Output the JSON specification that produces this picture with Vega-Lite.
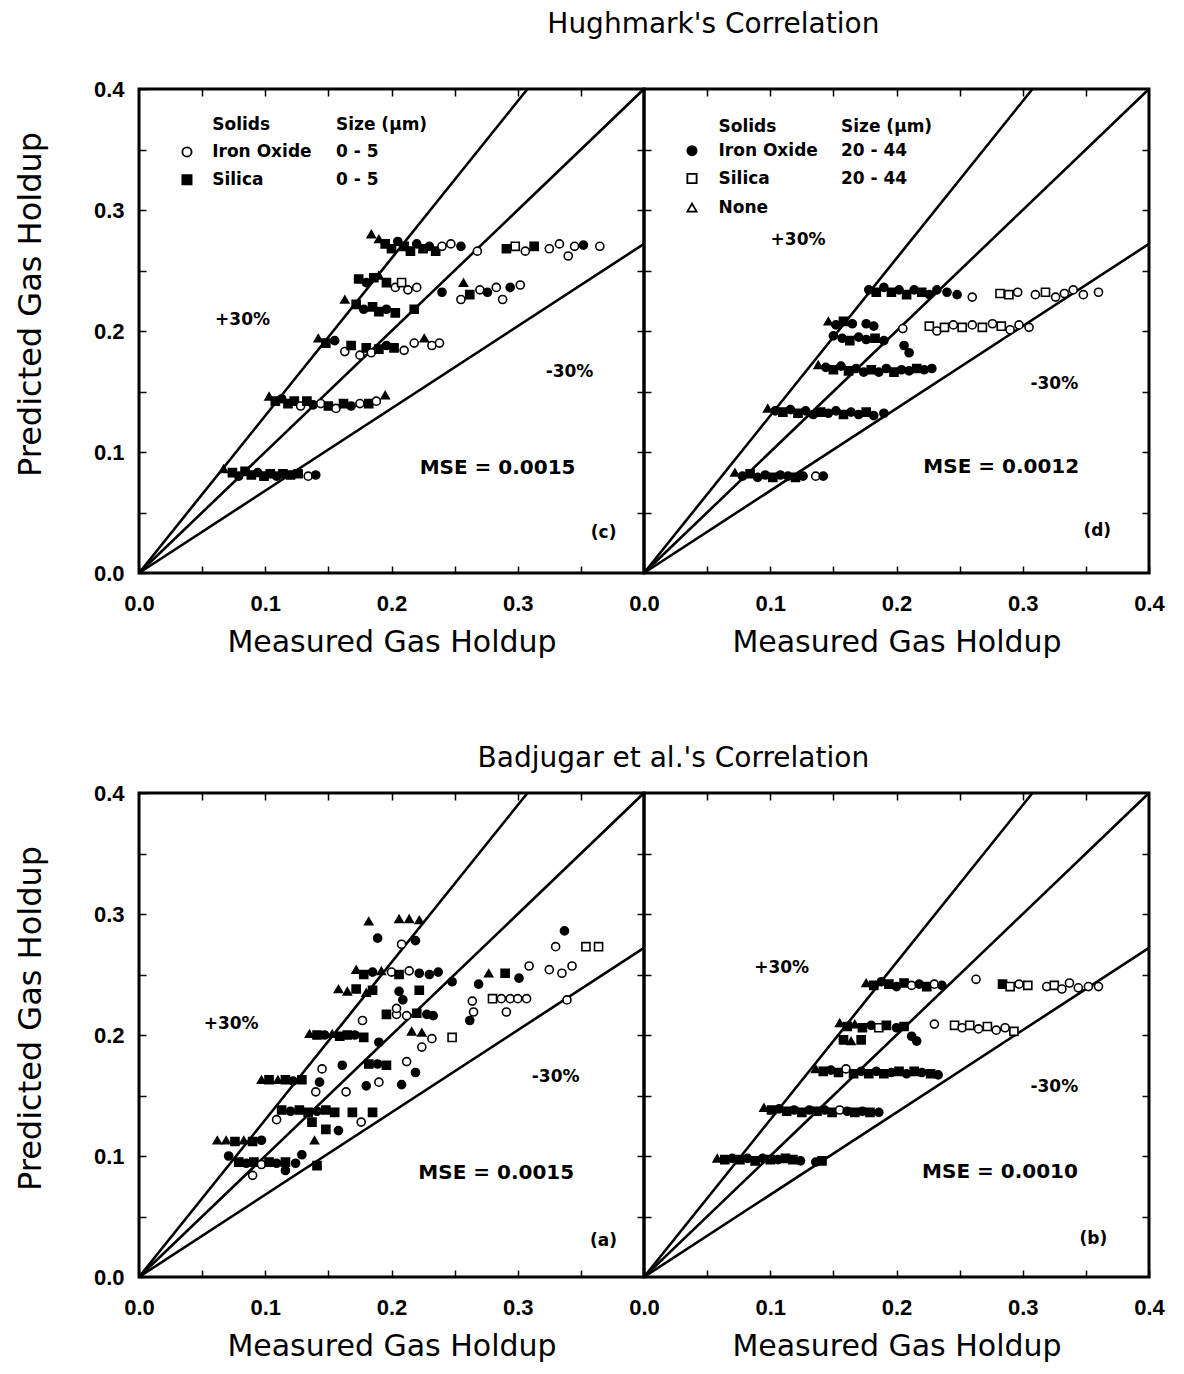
{
"$schema": "https://vega.github.io/schema/vega-lite/v6.json",
"background": "white",
"padding": {"left": 12, "top": 10, "right": 10, "bottom": 5},
"config": {
  "view": {"stroke": "black", "strokeWidth": 3},
  "axis": {"domain": false, "grid": false, "tickColor": "black", "tickWidth": 1.5, "tickSize": -7, "labelFont": "Liberation Sans", "labelFontWeight": "bold", "labelFontSize": 22, "labelColor": "black", "labelFlush": false, "labelOverlap": false, "titleFont": "DejaVu Sans", "titleFontWeight": "normal", "titleColor": "black"},
  "axisX": {"titleFontSize": 30},
  "axisY": {"titleFontSize": 32},
  "title": {"font": "DejaVu Sans", "fontSize": 28, "fontWeight": "normal", "color": "black", "anchor": "middle"},
  "text": {"color": "black"}
},
"datasets": {
  "lines": [
    {"l": "u", "x": 0, "y": 0}, {"l": "u", "x": 0.3077, "y": 0.4},
    {"l": "m", "x": 0, "y": 0}, {"l": "m", "x": 0.4, "y": 0.4},
    {"l": "d", "x": 0, "y": 0}, {"l": "d", "x": 0.4, "y": 0.272}
  ],
  "legsym": [
    {"p": "c", "s": "oc", "x": 0.038, "y": 0.348}, {"p": "c", "s": "fs", "x": 0.038, "y": 0.325},
    {"p": "d", "s": "fc", "x": 0.038, "y": 0.349}, {"p": "d", "s": "os", "x": 0.038, "y": 0.326}, {"p": "d", "s": "ot", "x": 0.038, "y": 0.302}
  ],
  "txt": [
    {"p": "c", "k": "leg", "x": 0.058, "y": 0.37, "t": "Solids"}, {"p": "c", "k": "leg", "x": 0.156, "y": 0.37, "t": "Size (μm)"},
    {"p": "c", "k": "leg", "x": 0.058, "y": 0.348, "t": "Iron Oxide"}, {"p": "c", "k": "leg", "x": 0.156, "y": 0.348, "t": "0 - 5"},
    {"p": "c", "k": "leg", "x": 0.058, "y": 0.325, "t": "Silica"}, {"p": "c", "k": "leg", "x": 0.156, "y": 0.325, "t": "0 - 5"},
    {"p": "d", "k": "leg", "x": 0.059, "y": 0.369, "t": "Solids"}, {"p": "d", "k": "leg", "x": 0.156, "y": 0.369, "t": "Size (μm)"},
    {"p": "d", "k": "leg", "x": 0.059, "y": 0.349, "t": "Iron Oxide"}, {"p": "d", "k": "leg", "x": 0.156, "y": 0.349, "t": "20 - 44"},
    {"p": "d", "k": "leg", "x": 0.059, "y": 0.326, "t": "Silica"}, {"p": "d", "k": "leg", "x": 0.156, "y": 0.326, "t": "20 - 44"},
    {"p": "d", "k": "leg", "x": 0.059, "y": 0.302, "t": "None"},
    {"p": "c", "k": "pct", "x": 0.082, "y": 0.209, "t": "+30%"}, {"p": "c", "k": "pct", "x": 0.341, "y": 0.166, "t": "-30%"},
    {"p": "c", "k": "mse", "x": 0.284, "y": 0.087, "t": "MSE = 0.0015"}, {"p": "c", "k": "lab", "x": 0.368, "y": 0.033, "t": "(c)"},
    {"p": "d", "k": "pct", "x": 0.122, "y": 0.275, "t": "+30%"}, {"p": "d", "k": "pct", "x": 0.325, "y": 0.156, "t": "-30%"},
    {"p": "d", "k": "mse", "x": 0.283, "y": 0.088, "t": "MSE = 0.0012"}, {"p": "d", "k": "lab", "x": 0.359, "y": 0.035, "t": "(d)"},
    {"p": "a", "k": "pct", "x": 0.073, "y": 0.209, "t": "+30%"}, {"p": "a", "k": "pct", "x": 0.33, "y": 0.165, "t": "-30%"},
    {"p": "a", "k": "mse", "x": 0.283, "y": 0.086, "t": "MSE = 0.0015"}, {"p": "a", "k": "lab", "x": 0.368, "y": 0.03, "t": "(a)"},
    {"p": "b", "k": "pct", "x": 0.109, "y": 0.255, "t": "+30%"}, {"p": "b", "k": "pct", "x": 0.325, "y": 0.157, "t": "-30%"},
    {"p": "b", "k": "mse", "x": 0.282, "y": 0.087, "t": "MSE = 0.0010"}, {"p": "b", "k": "lab", "x": 0.356, "y": 0.031, "t": "(b)"}
  ],
  "pts": [
    {"p":"c","s":"t","x":0.184,"y":0.28},{"p":"c","s":"t","x":0.19,"y":0.276},{"p":"c","s":"fs","x":0.195,"y":0.272},{"p":"c","s":"fs","x":0.2,"y":0.268},{"p":"c","s":"fc","x":0.205,"y":0.274},{"p":"c","s":"fs","x":0.21,"y":0.27},{"p":"c","s":"fs","x":0.215,"y":0.266},{"p":"c","s":"fc","x":0.22,"y":0.272},{"p":"c","s":"fs","x":0.225,"y":0.268},{"p":"c","s":"fc","x":0.23,"y":0.27},{"p":"c","s":"fs","x":0.235,"y":0.266},{"p":"c","s":"oc","x":0.24,"y":0.27},{"p":"c","s":"oc","x":0.247,"y":0.272},{"p":"c","s":"fc","x":0.255,"y":0.27},{"p":"c","s":"oc","x":0.268,"y":0.266},{"p":"c","s":"fs","x":0.291,"y":0.268},{"p":"c","s":"os","x":0.298,"y":0.27},{"p":"c","s":"oc","x":0.306,"y":0.266},{"p":"c","s":"fs","x":0.313,"y":0.27},{"p":"c","s":"oc","x":0.325,"y":0.268},{"p":"c","s":"oc","x":0.333,"y":0.272},{"p":"c","s":"oc","x":0.34,"y":0.262},{"p":"c","s":"oc","x":0.345,"y":0.27},{"p":"c","s":"fc","x":0.352,"y":0.271},{"p":"c","s":"oc","x":0.365,"y":0.27},
    {"p":"c","s":"fs","x":0.174,"y":0.243},{"p":"c","s":"fc","x":0.18,"y":0.24},{"p":"c","s":"fs","x":0.186,"y":0.244},{"p":"c","s":"t","x":0.19,"y":0.246},{"p":"c","s":"fs","x":0.196,"y":0.24},{"p":"c","s":"oc","x":0.203,"y":0.236},{"p":"c","s":"os","x":0.208,"y":0.24},{"p":"c","s":"oc","x":0.213,"y":0.234},{"p":"c","s":"oc","x":0.22,"y":0.236},
    {"p":"c","s":"fc","x":0.24,"y":0.232},{"p":"c","s":"t","x":0.257,"y":0.24},{"p":"c","s":"oc","x":0.255,"y":0.226},{"p":"c","s":"fs","x":0.262,"y":0.23},{"p":"c","s":"oc","x":0.27,"y":0.234},{"p":"c","s":"fc","x":0.276,"y":0.232},{"p":"c","s":"oc","x":0.283,"y":0.236},{"p":"c","s":"oc","x":0.288,"y":0.226},{"p":"c","s":"fc","x":0.294,"y":0.236},{"p":"c","s":"oc","x":0.302,"y":0.238},
    {"p":"c","s":"t","x":0.163,"y":0.226},{"p":"c","s":"fs","x":0.172,"y":0.222},{"p":"c","s":"fc","x":0.178,"y":0.218},{"p":"c","s":"fs","x":0.185,"y":0.22},{"p":"c","s":"fs","x":0.19,"y":0.216},{"p":"c","s":"fc","x":0.196,"y":0.218},{"p":"c","s":"fs","x":0.203,"y":0.215},{"p":"c","s":"fs","x":0.218,"y":0.218},
    {"p":"c","s":"t","x":0.142,"y":0.194},{"p":"c","s":"fs","x":0.148,"y":0.19},{"p":"c","s":"fc","x":0.155,"y":0.192},{"p":"c","s":"oc","x":0.163,"y":0.183},{"p":"c","s":"fs","x":0.168,"y":0.188},{"p":"c","s":"oc","x":0.175,"y":0.18},{"p":"c","s":"fs","x":0.18,"y":0.186},{"p":"c","s":"oc","x":0.184,"y":0.182},{"p":"c","s":"fs","x":0.19,"y":0.185},{"p":"c","s":"fc","x":0.196,"y":0.188},{"p":"c","s":"fs","x":0.202,"y":0.186},{"p":"c","s":"oc","x":0.21,"y":0.184},{"p":"c","s":"oc","x":0.218,"y":0.19},{"p":"c","s":"t","x":0.226,"y":0.194},{"p":"c","s":"oc","x":0.232,"y":0.188},{"p":"c","s":"oc","x":0.238,"y":0.19},
    {"p":"c","s":"t","x":0.103,"y":0.146},{"p":"c","s":"fs","x":0.108,"y":0.142},{"p":"c","s":"fc","x":0.113,"y":0.144},{"p":"c","s":"fs","x":0.118,"y":0.14},{"p":"c","s":"fs","x":0.123,"y":0.142},{"p":"c","s":"oc","x":0.128,"y":0.138},{"p":"c","s":"fs","x":0.133,"y":0.142},{"p":"c","s":"fc","x":0.138,"y":0.139},{"p":"c","s":"oc","x":0.144,"y":0.14},{"p":"c","s":"fs","x":0.15,"y":0.138},{"p":"c","s":"oc","x":0.156,"y":0.136},{"p":"c","s":"fs","x":0.162,"y":0.14},{"p":"c","s":"fc","x":0.168,"y":0.138},{"p":"c","s":"oc","x":0.175,"y":0.14},{"p":"c","s":"fs","x":0.182,"y":0.14},{"p":"c","s":"oc","x":0.188,"y":0.142},{"p":"c","s":"t","x":0.195,"y":0.147},
    {"p":"c","s":"t","x":0.067,"y":0.086},{"p":"c","s":"fs","x":0.074,"y":0.083},{"p":"c","s":"fc","x":0.079,"y":0.08},{"p":"c","s":"fs","x":0.084,"y":0.084},{"p":"c","s":"fs","x":0.089,"y":0.081},{"p":"c","s":"fc","x":0.094,"y":0.083},{"p":"c","s":"fs","x":0.099,"y":0.08},{"p":"c","s":"fs","x":0.104,"y":0.082},{"p":"c","s":"fc","x":0.109,"y":0.08},{"p":"c","s":"fs","x":0.114,"y":0.082},{"p":"c","s":"fs","x":0.12,"y":0.081},{"p":"c","s":"fs","x":0.126,"y":0.082},{"p":"c","s":"oc","x":0.134,"y":0.08},{"p":"c","s":"fc","x":0.14,"y":0.081},

    {"p":"d","s":"fc","x":0.178,"y":0.234},{"p":"d","s":"fs","x":0.184,"y":0.232},{"p":"d","s":"fc","x":0.19,"y":0.236},{"p":"d","s":"fs","x":0.196,"y":0.232},{"p":"d","s":"fc","x":0.202,"y":0.234},{"p":"d","s":"fs","x":0.208,"y":0.23},{"p":"d","s":"fc","x":0.214,"y":0.234},{"p":"d","s":"fs","x":0.22,"y":0.232},{"p":"d","s":"fc","x":0.226,"y":0.23},{"p":"d","s":"fc","x":0.232,"y":0.234},{"p":"d","s":"fc","x":0.24,"y":0.232},{"p":"d","s":"fc","x":0.248,"y":0.23},{"p":"d","s":"oc","x":0.26,"y":0.228},{"p":"d","s":"os","x":0.282,"y":0.231},{"p":"d","s":"os","x":0.289,"y":0.23},{"p":"d","s":"oc","x":0.296,"y":0.232},{"p":"d","s":"oc","x":0.31,"y":0.23},{"p":"d","s":"os","x":0.318,"y":0.232},{"p":"d","s":"oc","x":0.326,"y":0.228},{"p":"d","s":"oc","x":0.333,"y":0.231},{"p":"d","s":"oc","x":0.34,"y":0.234},{"p":"d","s":"oc","x":0.348,"y":0.23},{"p":"d","s":"oc","x":0.36,"y":0.232},
    {"p":"d","s":"t","x":0.146,"y":0.208},{"p":"d","s":"fc","x":0.152,"y":0.205},{"p":"d","s":"fs","x":0.158,"y":0.208},{"p":"d","s":"fc","x":0.165,"y":0.206},{"p":"d","s":"fc","x":0.176,"y":0.206},{"p":"d","s":"fc","x":0.182,"y":0.204},{"p":"d","s":"oc","x":0.205,"y":0.202},{"p":"d","s":"os","x":0.226,"y":0.204},{"p":"d","s":"oc","x":0.232,"y":0.2},{"p":"d","s":"os","x":0.238,"y":0.203},{"p":"d","s":"oc","x":0.245,"y":0.205},{"p":"d","s":"os","x":0.252,"y":0.203},{"p":"d","s":"oc","x":0.26,"y":0.205},{"p":"d","s":"os","x":0.268,"y":0.203},{"p":"d","s":"oc","x":0.276,"y":0.206},{"p":"d","s":"os","x":0.283,"y":0.204},{"p":"d","s":"oc","x":0.29,"y":0.201},{"p":"d","s":"oc","x":0.297,"y":0.205},{"p":"d","s":"oc","x":0.305,"y":0.203},
    {"p":"d","s":"fc","x":0.15,"y":0.196},{"p":"d","s":"fc","x":0.157,"y":0.194},{"p":"d","s":"fs","x":0.163,"y":0.192},{"p":"d","s":"fc","x":0.17,"y":0.195},{"p":"d","s":"fc","x":0.176,"y":0.193},{"p":"d","s":"fs","x":0.183,"y":0.194},{"p":"d","s":"fc","x":0.19,"y":0.192},{"p":"d","s":"fc","x":0.206,"y":0.188},{"p":"d","s":"fc","x":0.21,"y":0.182},
    {"p":"d","s":"t","x":0.138,"y":0.172},{"p":"d","s":"fc","x":0.144,"y":0.17},{"p":"d","s":"fs","x":0.15,"y":0.168},{"p":"d","s":"fc","x":0.156,"y":0.171},{"p":"d","s":"fs","x":0.162,"y":0.167},{"p":"d","s":"fc","x":0.168,"y":0.169},{"p":"d","s":"fc","x":0.174,"y":0.166},{"p":"d","s":"fs","x":0.18,"y":0.168},{"p":"d","s":"fc","x":0.186,"y":0.166},{"p":"d","s":"fc","x":0.192,"y":0.169},{"p":"d","s":"fs","x":0.198,"y":0.166},{"p":"d","s":"fc","x":0.204,"y":0.168},{"p":"d","s":"fc","x":0.21,"y":0.167},{"p":"d","s":"fs","x":0.216,"y":0.169},{"p":"d","s":"fc","x":0.222,"y":0.168},{"p":"d","s":"fc","x":0.228,"y":0.169},
    {"p":"d","s":"t","x":0.098,"y":0.136},{"p":"d","s":"fc","x":0.104,"y":0.134},{"p":"d","s":"fs","x":0.11,"y":0.133},{"p":"d","s":"fc","x":0.116,"y":0.135},{"p":"d","s":"fs","x":0.122,"y":0.132},{"p":"d","s":"fc","x":0.128,"y":0.134},{"p":"d","s":"fc","x":0.134,"y":0.131},{"p":"d","s":"fs","x":0.14,"y":0.133},{"p":"d","s":"fc","x":0.146,"y":0.132},{"p":"d","s":"fc","x":0.152,"y":0.134},{"p":"d","s":"fs","x":0.158,"y":0.131},{"p":"d","s":"fc","x":0.164,"y":0.133},{"p":"d","s":"fc","x":0.17,"y":0.131},{"p":"d","s":"fs","x":0.176,"y":0.133},{"p":"d","s":"fc","x":0.182,"y":0.13},{"p":"d","s":"fc","x":0.19,"y":0.132},
    {"p":"d","s":"t","x":0.072,"y":0.083},{"p":"d","s":"fc","x":0.078,"y":0.08},{"p":"d","s":"fs","x":0.084,"y":0.082},{"p":"d","s":"fc","x":0.09,"y":0.079},{"p":"d","s":"fc","x":0.096,"y":0.081},{"p":"d","s":"fs","x":0.102,"y":0.079},{"p":"d","s":"fc","x":0.108,"y":0.081},{"p":"d","s":"fc","x":0.114,"y":0.08},{"p":"d","s":"fs","x":0.12,"y":0.079},{"p":"d","s":"fc","x":0.126,"y":0.08},{"p":"d","s":"oc","x":0.136,"y":0.08},{"p":"d","s":"fc","x":0.142,"y":0.08},

    {"p":"a","s":"t","x":0.182,"y":0.294},{"p":"a","s":"t","x":0.206,"y":0.296},{"p":"a","s":"t","x":0.214,"y":0.296},{"p":"a","s":"t","x":0.222,"y":0.295},{"p":"a","s":"fc","x":0.189,"y":0.28},{"p":"a","s":"oc","x":0.208,"y":0.275},{"p":"a","s":"fc","x":0.219,"y":0.278},
    {"p":"a","s":"t","x":0.172,"y":0.254},{"p":"a","s":"fs","x":0.178,"y":0.25},{"p":"a","s":"fc","x":0.185,"y":0.252},{"p":"a","s":"t","x":0.192,"y":0.253},{"p":"a","s":"oc","x":0.2,"y":0.252},{"p":"a","s":"fs","x":0.206,"y":0.25},{"p":"a","s":"oc","x":0.214,"y":0.253},{"p":"a","s":"fc","x":0.222,"y":0.251},{"p":"a","s":"fc","x":0.23,"y":0.25},{"p":"a","s":"fc","x":0.237,"y":0.252},
    {"p":"a","s":"t","x":0.158,"y":0.238},{"p":"a","s":"t","x":0.165,"y":0.236},{"p":"a","s":"fs","x":0.172,"y":0.238},{"p":"a","s":"t","x":0.18,"y":0.235},{"p":"a","s":"fs","x":0.185,"y":0.237},{"p":"a","s":"fc","x":0.206,"y":0.236},{"p":"a","s":"fs","x":0.222,"y":0.237},{"p":"a","s":"fc","x":0.209,"y":0.229},{"p":"a","s":"oc","x":0.177,"y":0.212},
    {"p":"a","s":"fs","x":0.196,"y":0.217},{"p":"a","s":"oc","x":0.204,"y":0.217},{"p":"a","s":"oc","x":0.212,"y":0.216},{"p":"a","s":"fs","x":0.22,"y":0.218},{"p":"a","s":"fc","x":0.228,"y":0.217},{"p":"a","s":"fc","x":0.233,"y":0.216},{"p":"a","s":"oc","x":0.204,"y":0.222},
    {"p":"a","s":"fc","x":0.248,"y":0.244},{"p":"a","s":"fc","x":0.269,"y":0.242},{"p":"a","s":"t","x":0.277,"y":0.251},{"p":"a","s":"fs","x":0.29,"y":0.251},{"p":"a","s":"fc","x":0.301,"y":0.247},{"p":"a","s":"oc","x":0.309,"y":0.257},{"p":"a","s":"oc","x":0.325,"y":0.254},{"p":"a","s":"oc","x":0.335,"y":0.251},{"p":"a","s":"oc","x":0.343,"y":0.257},{"p":"a","s":"fc","x":0.337,"y":0.286},{"p":"a","s":"oc","x":0.33,"y":0.273},{"p":"a","s":"os","x":0.354,"y":0.273},{"p":"a","s":"os","x":0.364,"y":0.273},
    {"p":"a","s":"os","x":0.28,"y":0.23},{"p":"a","s":"oc","x":0.287,"y":0.23},{"p":"a","s":"oc","x":0.294,"y":0.23},{"p":"a","s":"oc","x":0.3,"y":0.23},{"p":"a","s":"oc","x":0.307,"y":0.23},{"p":"a","s":"oc","x":0.291,"y":0.219},{"p":"a","s":"oc","x":0.264,"y":0.228},{"p":"a","s":"oc","x":0.265,"y":0.219},{"p":"a","s":"fc","x":0.262,"y":0.212},{"p":"a","s":"oc","x":0.339,"y":0.229},
    {"p":"a","s":"t","x":0.135,"y":0.201},{"p":"a","s":"fs","x":0.141,"y":0.2},{"p":"a","s":"fc","x":0.147,"y":0.2},{"p":"a","s":"t","x":0.153,"y":0.201},{"p":"a","s":"fs","x":0.159,"y":0.199},{"p":"a","s":"fs","x":0.165,"y":0.2},{"p":"a","s":"fc","x":0.171,"y":0.2},{"p":"a","s":"fs","x":0.178,"y":0.198},{"p":"a","s":"fc","x":0.19,"y":0.194},{"p":"a","s":"t","x":0.216,"y":0.203},{"p":"a","s":"t","x":0.224,"y":0.202},{"p":"a","s":"oc","x":0.232,"y":0.197},{"p":"a","s":"os","x":0.248,"y":0.198},{"p":"a","s":"oc","x":0.224,"y":0.19},
    {"p":"a","s":"oc","x":0.145,"y":0.172},{"p":"a","s":"fc","x":0.161,"y":0.175},{"p":"a","s":"fs","x":0.182,"y":0.176},{"p":"a","s":"fc","x":0.189,"y":0.176},{"p":"a","s":"fs","x":0.196,"y":0.175},{"p":"a","s":"oc","x":0.212,"y":0.178},{"p":"a","s":"fc","x":0.219,"y":0.169},
    {"p":"a","s":"t","x":0.097,"y":0.163},{"p":"a","s":"fs","x":0.103,"y":0.163},{"p":"a","s":"t","x":0.11,"y":0.163},{"p":"a","s":"fs","x":0.116,"y":0.163},{"p":"a","s":"fc","x":0.122,"y":0.162},{"p":"a","s":"fs","x":0.129,"y":0.163},{"p":"a","s":"fc","x":0.143,"y":0.161},{"p":"a","s":"oc","x":0.14,"y":0.153},{"p":"a","s":"oc","x":0.164,"y":0.153},{"p":"a","s":"fc","x":0.18,"y":0.158},{"p":"a","s":"oc","x":0.19,"y":0.161},{"p":"a","s":"fc","x":0.208,"y":0.159},
    {"p":"a","s":"fs","x":0.113,"y":0.138},{"p":"a","s":"fc","x":0.12,"y":0.137},{"p":"a","s":"fs","x":0.127,"y":0.138},{"p":"a","s":"fs","x":0.134,"y":0.136},{"p":"a","s":"fc","x":0.141,"y":0.137},{"p":"a","s":"fs","x":0.148,"y":0.138},{"p":"a","s":"fs","x":0.155,"y":0.136},{"p":"a","s":"oc","x":0.109,"y":0.13},{"p":"a","s":"fs","x":0.137,"y":0.128},{"p":"a","s":"fs","x":0.148,"y":0.122},{"p":"a","s":"fc","x":0.158,"y":0.121},{"p":"a","s":"fs","x":0.169,"y":0.136},{"p":"a","s":"fs","x":0.185,"y":0.136},{"p":"a","s":"oc","x":0.176,"y":0.128},{"p":"a","s":"t","x":0.139,"y":0.113},
    {"p":"a","s":"t","x":0.062,"y":0.113},{"p":"a","s":"t","x":0.069,"y":0.113},{"p":"a","s":"fs","x":0.076,"y":0.112},{"p":"a","s":"t","x":0.083,"y":0.113},{"p":"a","s":"fs","x":0.09,"y":0.112},{"p":"a","s":"fc","x":0.097,"y":0.113},
    {"p":"a","s":"fs","x":0.079,"y":0.095},{"p":"a","s":"fc","x":0.085,"y":0.094},{"p":"a","s":"fs","x":0.091,"y":0.095},{"p":"a","s":"oc","x":0.097,"y":0.093},{"p":"a","s":"fs","x":0.103,"y":0.095},{"p":"a","s":"fc","x":0.109,"y":0.094},{"p":"a","s":"fs","x":0.116,"y":0.095},{"p":"a","s":"fc","x":0.124,"y":0.094},{"p":"a","s":"oc","x":0.09,"y":0.084},{"p":"a","s":"fc","x":0.129,"y":0.101},{"p":"a","s":"fs","x":0.141,"y":0.092},{"p":"a","s":"fc","x":0.116,"y":0.088},{"p":"a","s":"fc","x":0.071,"y":0.1},

    {"p":"b","s":"t","x":0.176,"y":0.243},{"p":"b","s":"fs","x":0.182,"y":0.241},{"p":"b","s":"fc","x":0.188,"y":0.244},{"p":"b","s":"fs","x":0.194,"y":0.242},{"p":"b","s":"fc","x":0.2,"y":0.24},{"p":"b","s":"fs","x":0.206,"y":0.243},{"p":"b","s":"oc","x":0.212,"y":0.241},{"p":"b","s":"fc","x":0.218,"y":0.242},{"p":"b","s":"fs","x":0.224,"y":0.24},{"p":"b","s":"oc","x":0.23,"y":0.242},{"p":"b","s":"fc","x":0.236,"y":0.241},{"p":"b","s":"oc","x":0.263,"y":0.246},{"p":"b","s":"fs","x":0.284,"y":0.242},{"p":"b","s":"os","x":0.29,"y":0.24},{"p":"b","s":"oc","x":0.297,"y":0.242},{"p":"b","s":"os","x":0.304,"y":0.241},{"p":"b","s":"oc","x":0.319,"y":0.24},{"p":"b","s":"os","x":0.325,"y":0.241},{"p":"b","s":"oc","x":0.331,"y":0.238},{"p":"b","s":"oc","x":0.337,"y":0.243},{"p":"b","s":"oc","x":0.344,"y":0.239},{"p":"b","s":"oc","x":0.352,"y":0.24},{"p":"b","s":"oc","x":0.36,"y":0.24},
    {"p":"b","s":"t","x":0.155,"y":0.21},{"p":"b","s":"fs","x":0.161,"y":0.207},{"p":"b","s":"t","x":0.167,"y":0.209},{"p":"b","s":"fs","x":0.173,"y":0.206},{"p":"b","s":"fc","x":0.18,"y":0.208},{"p":"b","s":"os","x":0.186,"y":0.206},{"p":"b","s":"fs","x":0.192,"y":0.208},{"p":"b","s":"fc","x":0.2,"y":0.206},{"p":"b","s":"fs","x":0.206,"y":0.207},{"p":"b","s":"fc","x":0.212,"y":0.199},{"p":"b","s":"fc","x":0.216,"y":0.195},{"p":"b","s":"oc","x":0.23,"y":0.209},{"p":"b","s":"os","x":0.246,"y":0.208},{"p":"b","s":"oc","x":0.252,"y":0.206},{"p":"b","s":"os","x":0.258,"y":0.208},{"p":"b","s":"oc","x":0.265,"y":0.205},{"p":"b","s":"os","x":0.272,"y":0.207},{"p":"b","s":"oc","x":0.279,"y":0.204},{"p":"b","s":"oc","x":0.286,"y":0.206},{"p":"b","s":"os","x":0.293,"y":0.203},{"p":"b","s":"fs","x":0.158,"y":0.196},{"p":"b","s":"t","x":0.164,"y":0.195},{"p":"b","s":"fs","x":0.172,"y":0.196},
    {"p":"b","s":"t","x":0.136,"y":0.172},{"p":"b","s":"fs","x":0.142,"y":0.17},{"p":"b","s":"fc","x":0.148,"y":0.171},{"p":"b","s":"fs","x":0.154,"y":0.169},{"p":"b","s":"oc","x":0.16,"y":0.172},{"p":"b","s":"fs","x":0.166,"y":0.168},{"p":"b","s":"fc","x":0.172,"y":0.17},{"p":"b","s":"fs","x":0.178,"y":0.168},{"p":"b","s":"fc","x":0.184,"y":0.17},{"p":"b","s":"fs","x":0.19,"y":0.168},{"p":"b","s":"fc","x":0.196,"y":0.169},{"p":"b","s":"fs","x":0.202,"y":0.17},{"p":"b","s":"fc","x":0.208,"y":0.168},{"p":"b","s":"fs","x":0.214,"y":0.17},{"p":"b","s":"fc","x":0.22,"y":0.169},{"p":"b","s":"fs","x":0.227,"y":0.168},{"p":"b","s":"fc","x":0.233,"y":0.167},
    {"p":"b","s":"t","x":0.095,"y":0.14},{"p":"b","s":"fs","x":0.101,"y":0.138},{"p":"b","s":"fc","x":0.107,"y":0.139},{"p":"b","s":"fs","x":0.113,"y":0.137},{"p":"b","s":"fc","x":0.119,"y":0.138},{"p":"b","s":"fs","x":0.125,"y":0.136},{"p":"b","s":"fc","x":0.131,"y":0.138},{"p":"b","s":"fs","x":0.137,"y":0.137},{"p":"b","s":"fc","x":0.143,"y":0.138},{"p":"b","s":"fs","x":0.149,"y":0.136},{"p":"b","s":"oc","x":0.155,"y":0.138},{"p":"b","s":"fc","x":0.161,"y":0.137},{"p":"b","s":"fs","x":0.167,"y":0.136},{"p":"b","s":"fc","x":0.173,"y":0.137},{"p":"b","s":"fs","x":0.179,"y":0.136},{"p":"b","s":"fc","x":0.186,"y":0.136},
    {"p":"b","s":"t","x":0.058,"y":0.098},{"p":"b","s":"fs","x":0.064,"y":0.097},{"p":"b","s":"fc","x":0.07,"y":0.098},{"p":"b","s":"fs","x":0.076,"y":0.097},{"p":"b","s":"fc","x":0.082,"y":0.098},{"p":"b","s":"fs","x":0.088,"y":0.096},{"p":"b","s":"fc","x":0.094,"y":0.098},{"p":"b","s":"fs","x":0.1,"y":0.097},{"p":"b","s":"fc","x":0.106,"y":0.097},{"p":"b","s":"fs","x":0.112,"y":0.098},{"p":"b","s":"fs","x":0.118,"y":0.097},{"p":"b","s":"fc","x":0.124,"y":0.096},{"p":"b","s":"fc","x":0.136,"y":0.095},{"p":"b","s":"fs","x":0.141,"y":0.096}
  ]
},
"spacing": 85,
"vconcat": [
 {
  "title": {"text": "Hughmark's Correlation", "offset": 38, "dx": 124},
  "spacing": 0,
  "bounds": "flush",
  "hconcat": [
   {
    "width": 505, "height": 484,
    "layer": [
     {"data": {"name": "lines"}, "mark": {"type": "line", "color": "black", "strokeWidth": 2.6},
      "encoding": {
       "x": {"field": "x", "type": "quantitative", "scale": {"domain": [0, 0.4], "nice": false, "zero": false}, "axis": {"orient": "bottom", "title": "Measured Gas Holdup", "values": [0,0.05,0.1,0.15,0.2,0.25,0.3,0.35,0.4], "labelExpr": "(round(datum.value*100)%10==0 && datum.value<0.39) ? format(datum.value,'.1f') : ''", "labelPadding": 27, "titlePadding": 13}},
       "y": {"field": "y", "type": "quantitative", "scale": {"domain": [0, 0.4], "nice": false, "zero": false}, "axis": {"orient": "left", "title": "Predicted Gas Holdup", "titleY": 215, "values": [0,0.05,0.1,0.15,0.2,0.25,0.3,0.35,0.4], "labelExpr": "round(datum.value*100)%10==0 ? format(datum.value,'.1f') : ''", "labelPadding": 22, "titlePadding": 46}},
       "detail": {"field": "l"}}},
     {"data": {"name": "pts"}, "transform": [{"filter": "datum.p=='c'"}],
      "mark": {"type": "point", "filled": true, "stroke": "black", "strokeWidth": 1.6, "size": 65, "opacity": 1},
      "encoding": {
       "x": {"field": "x", "type": "quantitative", "axis": {"orient": "top", "title": null, "labels": false, "values": [0.05,0.1,0.15,0.2,0.25,0.3,0.35]}},
       "y": {"field": "y", "type": "quantitative", "axis": {"orient": "right", "title": null, "labels": false, "values": [0.05,0.1,0.15,0.2,0.25,0.3,0.35]}},
       "shape": {"field": "s", "type": "nominal", "legend": null, "scale": {"domain": ["oc","fc","os","fs","t","ot"], "range": ["circle","circle","square","square","triangle-up","triangle-up"]}},
       "fill": {"field": "s", "type": "nominal", "legend": null, "scale": {"domain": ["oc","fc","os","fs","t","ot"], "range": ["white","black","white","black","black","white"]}}}},
     {"data": {"name": "legsym"}, "transform": [{"filter": "datum.p=='c'"}],
      "mark": {"type": "point", "filled": true, "stroke": "black", "strokeWidth": 1.8, "size": 85, "opacity": 1},
      "encoding": {
       "x": {"field": "x", "type": "quantitative", "axis": null},
       "y": {"field": "y", "type": "quantitative", "axis": null},
       "shape": {"field": "s", "type": "nominal", "legend": null},
       "fill": {"field": "s", "type": "nominal", "legend": null}}},
     {"data": {"name": "txt"}, "transform": [{"filter": "datum.p=='c' && datum.k=='leg'"}],
      "mark": {"type": "text", "font": "DejaVu Sans", "fontWeight": "bold", "fontSize": 17, "align": "left", "baseline": "middle"},
      "encoding": {"x": {"field": "x", "type": "quantitative", "axis": null}, "y": {"field": "y", "type": "quantitative", "axis": null}, "text": {"field": "t"}}},
     {"data": {"name": "txt"}, "transform": [{"filter": "datum.p=='c' && datum.k=='pct'"}],
      "mark": {"type": "text", "font": "DejaVu Sans", "fontWeight": "bold", "fontSize": 17, "align": "center", "baseline": "middle"},
      "encoding": {"x": {"field": "x", "type": "quantitative", "axis": null}, "y": {"field": "y", "type": "quantitative", "axis": null}, "text": {"field": "t"}}},
     {"data": {"name": "txt"}, "transform": [{"filter": "datum.p=='c' && datum.k=='mse'"}],
      "mark": {"type": "text", "font": "DejaVu Sans", "fontWeight": "bold", "fontSize": 20, "align": "center", "baseline": "middle"},
      "encoding": {"x": {"field": "x", "type": "quantitative", "axis": null}, "y": {"field": "y", "type": "quantitative", "axis": null}, "text": {"field": "t"}}},
     {"data": {"name": "txt"}, "transform": [{"filter": "datum.p=='c' && datum.k=='lab'"}],
      "mark": {"type": "text", "font": "DejaVu Sans", "fontWeight": "bold", "fontSize": 17, "align": "center", "baseline": "middle"},
      "encoding": {"x": {"field": "x", "type": "quantitative", "axis": null}, "y": {"field": "y", "type": "quantitative", "axis": null}, "text": {"field": "t"}}}
    ],
    "resolve": {"axis": {"x": "independent", "y": "independent"}}
   },
   {
    "width": 505, "height": 484,
    "layer": [
     {"data": {"name": "lines"}, "mark": {"type": "line", "color": "black", "strokeWidth": 2.6},
      "encoding": {
       "x": {"field": "x", "type": "quantitative", "scale": {"domain": [0, 0.4], "nice": false, "zero": false}, "axis": {"orient": "bottom", "title": "Measured Gas Holdup", "values": [0,0.05,0.1,0.15,0.2,0.25,0.3,0.35,0.4], "labelExpr": "round(datum.value*100)%10==0 ? format(datum.value,'.1f') : ''", "labelPadding": 27, "titlePadding": 13}},
       "y": {"field": "y", "type": "quantitative", "scale": {"domain": [0, 0.4], "nice": false, "zero": false}, "axis": {"orient": "left", "title": null, "labels": false, "values": [0.05,0.1,0.15,0.2,0.25,0.3,0.35]}},
       "detail": {"field": "l"}}},
     {"data": {"name": "pts"}, "transform": [{"filter": "datum.p=='d'"}],
      "mark": {"type": "point", "filled": true, "stroke": "black", "strokeWidth": 1.6, "size": 65, "opacity": 1},
      "encoding": {
       "x": {"field": "x", "type": "quantitative", "axis": {"orient": "top", "title": null, "labels": false, "values": [0.05,0.1,0.15,0.2,0.25,0.3,0.35]}},
       "y": {"field": "y", "type": "quantitative", "axis": {"orient": "right", "title": null, "labels": false, "values": [0.05,0.1,0.15,0.2,0.25,0.3,0.35]}},
       "shape": {"field": "s", "type": "nominal", "legend": null, "scale": {"domain": ["oc","fc","os","fs","t","ot"], "range": ["circle","circle","square","square","triangle-up","triangle-up"]}},
       "fill": {"field": "s", "type": "nominal", "legend": null, "scale": {"domain": ["oc","fc","os","fs","t","ot"], "range": ["white","black","white","black","black","white"]}}}},
     {"data": {"name": "legsym"}, "transform": [{"filter": "datum.p=='d'"}],
      "mark": {"type": "point", "filled": true, "stroke": "black", "strokeWidth": 1.8, "size": 85, "opacity": 1},
      "encoding": {
       "x": {"field": "x", "type": "quantitative", "axis": null},
       "y": {"field": "y", "type": "quantitative", "axis": null},
       "shape": {"field": "s", "type": "nominal", "legend": null},
       "fill": {"field": "s", "type": "nominal", "legend": null}}},
     {"data": {"name": "txt"}, "transform": [{"filter": "datum.p=='d' && datum.k=='leg'"}],
      "mark": {"type": "text", "font": "DejaVu Sans", "fontWeight": "bold", "fontSize": 17, "align": "left", "baseline": "middle"},
      "encoding": {"x": {"field": "x", "type": "quantitative", "axis": null}, "y": {"field": "y", "type": "quantitative", "axis": null}, "text": {"field": "t"}}},
     {"data": {"name": "txt"}, "transform": [{"filter": "datum.p=='d' && datum.k=='pct'"}],
      "mark": {"type": "text", "font": "DejaVu Sans", "fontWeight": "bold", "fontSize": 17, "align": "center", "baseline": "middle"},
      "encoding": {"x": {"field": "x", "type": "quantitative", "axis": null}, "y": {"field": "y", "type": "quantitative", "axis": null}, "text": {"field": "t"}}},
     {"data": {"name": "txt"}, "transform": [{"filter": "datum.p=='d' && datum.k=='mse'"}],
      "mark": {"type": "text", "font": "DejaVu Sans", "fontWeight": "bold", "fontSize": 20, "align": "center", "baseline": "middle"},
      "encoding": {"x": {"field": "x", "type": "quantitative", "axis": null}, "y": {"field": "y", "type": "quantitative", "axis": null}, "text": {"field": "t"}}},
     {"data": {"name": "txt"}, "transform": [{"filter": "datum.p=='d' && datum.k=='lab'"}],
      "mark": {"type": "text", "font": "DejaVu Sans", "fontWeight": "bold", "fontSize": 17, "align": "center", "baseline": "middle"},
      "encoding": {"x": {"field": "x", "type": "quantitative", "axis": null}, "y": {"field": "y", "type": "quantitative", "axis": null}, "text": {"field": "t"}}}
    ],
    "resolve": {"axis": {"x": "independent", "y": "independent"}}
   }
  ]
 },
 {
  "title": {"text": "Badjugar et al.'s Correlation", "offset": 8, "dx": 84},
  "spacing": 0,
  "bounds": "flush",
  "hconcat": [
   {
    "width": 505, "height": 484,
    "layer": [
     {"data": {"name": "lines"}, "mark": {"type": "line", "color": "black", "strokeWidth": 2.6},
      "encoding": {
       "x": {"field": "x", "type": "quantitative", "scale": {"domain": [0, 0.4], "nice": false, "zero": false}, "axis": {"orient": "bottom", "title": "Measured Gas Holdup", "values": [0,0.05,0.1,0.15,0.2,0.25,0.3,0.35,0.4], "labelExpr": "(round(datum.value*100)%10==0 && datum.value<0.39) ? format(datum.value,'.1f') : ''", "labelPadding": 27, "titlePadding": 13}},
       "y": {"field": "y", "type": "quantitative", "scale": {"domain": [0, 0.4], "nice": false, "zero": false}, "axis": {"orient": "left", "title": "Predicted Gas Holdup", "titleY": 225, "values": [0,0.05,0.1,0.15,0.2,0.25,0.3,0.35,0.4], "labelExpr": "round(datum.value*100)%10==0 ? format(datum.value,'.1f') : ''", "labelPadding": 22, "titlePadding": 46}},
       "detail": {"field": "l"}}},
     {"data": {"name": "pts"}, "transform": [{"filter": "datum.p=='a'"}],
      "mark": {"type": "point", "filled": true, "stroke": "black", "strokeWidth": 1.6, "size": 65, "opacity": 1},
      "encoding": {
       "x": {"field": "x", "type": "quantitative", "axis": {"orient": "top", "title": null, "labels": false, "values": [0.05,0.1,0.15,0.2,0.25,0.3,0.35]}},
       "y": {"field": "y", "type": "quantitative", "axis": {"orient": "right", "title": null, "labels": false, "values": [0.05,0.1,0.15,0.2,0.25,0.3,0.35]}},
       "shape": {"field": "s", "type": "nominal", "legend": null, "scale": {"domain": ["oc","fc","os","fs","t","ot"], "range": ["circle","circle","square","square","triangle-up","triangle-up"]}},
       "fill": {"field": "s", "type": "nominal", "legend": null, "scale": {"domain": ["oc","fc","os","fs","t","ot"], "range": ["white","black","white","black","black","white"]}}}},
     {"data": {"name": "txt"}, "transform": [{"filter": "datum.p=='a' && datum.k=='pct'"}],
      "mark": {"type": "text", "font": "DejaVu Sans", "fontWeight": "bold", "fontSize": 17, "align": "center", "baseline": "middle"},
      "encoding": {"x": {"field": "x", "type": "quantitative", "axis": null}, "y": {"field": "y", "type": "quantitative", "axis": null}, "text": {"field": "t"}}},
     {"data": {"name": "txt"}, "transform": [{"filter": "datum.p=='a' && datum.k=='mse'"}],
      "mark": {"type": "text", "font": "DejaVu Sans", "fontWeight": "bold", "fontSize": 20, "align": "center", "baseline": "middle"},
      "encoding": {"x": {"field": "x", "type": "quantitative", "axis": null}, "y": {"field": "y", "type": "quantitative", "axis": null}, "text": {"field": "t"}}},
     {"data": {"name": "txt"}, "transform": [{"filter": "datum.p=='a' && datum.k=='lab'"}],
      "mark": {"type": "text", "font": "DejaVu Sans", "fontWeight": "bold", "fontSize": 17, "align": "center", "baseline": "middle"},
      "encoding": {"x": {"field": "x", "type": "quantitative", "axis": null}, "y": {"field": "y", "type": "quantitative", "axis": null}, "text": {"field": "t"}}}
    ],
    "resolve": {"axis": {"x": "independent", "y": "independent"}}
   },
   {
    "width": 505, "height": 484,
    "layer": [
     {"data": {"name": "lines"}, "mark": {"type": "line", "color": "black", "strokeWidth": 2.6},
      "encoding": {
       "x": {"field": "x", "type": "quantitative", "scale": {"domain": [0, 0.4], "nice": false, "zero": false}, "axis": {"orient": "bottom", "title": "Measured Gas Holdup", "values": [0,0.05,0.1,0.15,0.2,0.25,0.3,0.35,0.4], "labelExpr": "round(datum.value*100)%10==0 ? format(datum.value,'.1f') : ''", "labelPadding": 27, "titlePadding": 13}},
       "y": {"field": "y", "type": "quantitative", "scale": {"domain": [0, 0.4], "nice": false, "zero": false}, "axis": {"orient": "left", "title": null, "labels": false, "values": [0.05,0.1,0.15,0.2,0.25,0.3,0.35]}},
       "detail": {"field": "l"}}},
     {"data": {"name": "pts"}, "transform": [{"filter": "datum.p=='b'"}],
      "mark": {"type": "point", "filled": true, "stroke": "black", "strokeWidth": 1.6, "size": 65, "opacity": 1},
      "encoding": {
       "x": {"field": "x", "type": "quantitative", "axis": {"orient": "top", "title": null, "labels": false, "values": [0.05,0.1,0.15,0.2,0.25,0.3,0.35]}},
       "y": {"field": "y", "type": "quantitative", "axis": {"orient": "right", "title": null, "labels": false, "values": [0.05,0.1,0.15,0.2,0.25,0.3,0.35]}},
       "shape": {"field": "s", "type": "nominal", "legend": null, "scale": {"domain": ["oc","fc","os","fs","t","ot"], "range": ["circle","circle","square","square","triangle-up","triangle-up"]}},
       "fill": {"field": "s", "type": "nominal", "legend": null, "scale": {"domain": ["oc","fc","os","fs","t","ot"], "range": ["white","black","white","black","black","white"]}}}},
     {"data": {"name": "txt"}, "transform": [{"filter": "datum.p=='b' && datum.k=='pct'"}],
      "mark": {"type": "text", "font": "DejaVu Sans", "fontWeight": "bold", "fontSize": 17, "align": "center", "baseline": "middle"},
      "encoding": {"x": {"field": "x", "type": "quantitative", "axis": null}, "y": {"field": "y", "type": "quantitative", "axis": null}, "text": {"field": "t"}}},
     {"data": {"name": "txt"}, "transform": [{"filter": "datum.p=='b' && datum.k=='mse'"}],
      "mark": {"type": "text", "font": "DejaVu Sans", "fontWeight": "bold", "fontSize": 20, "align": "center", "baseline": "middle"},
      "encoding": {"x": {"field": "x", "type": "quantitative", "axis": null}, "y": {"field": "y", "type": "quantitative", "axis": null}, "text": {"field": "t"}}},
     {"data": {"name": "txt"}, "transform": [{"filter": "datum.p=='b' && datum.k=='lab'"}],
      "mark": {"type": "text", "font": "DejaVu Sans", "fontWeight": "bold", "fontSize": 17, "align": "center", "baseline": "middle"},
      "encoding": {"x": {"field": "x", "type": "quantitative", "axis": null}, "y": {"field": "y", "type": "quantitative", "axis": null}, "text": {"field": "t"}}}
    ],
    "resolve": {"axis": {"x": "independent", "y": "independent"}}
   }
  ]
 }
]
}
